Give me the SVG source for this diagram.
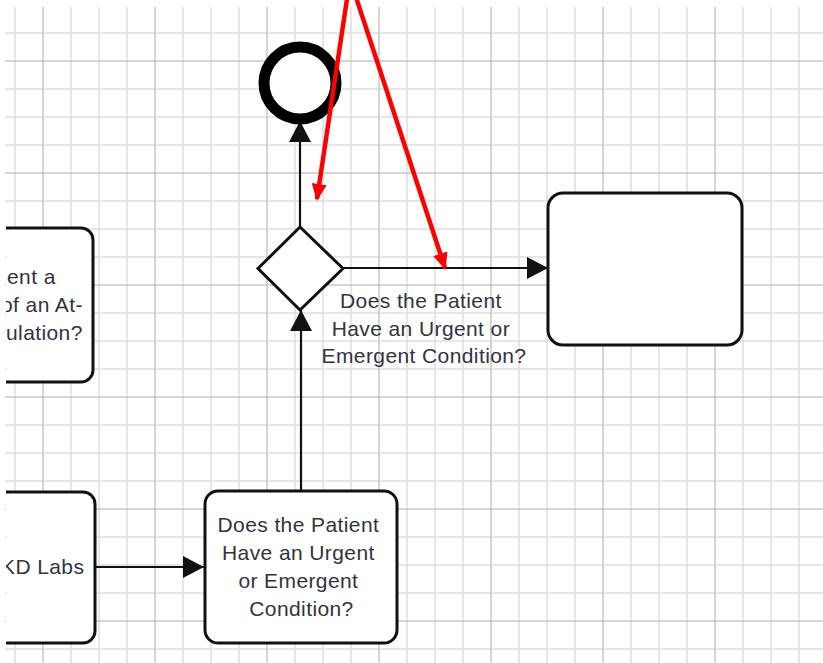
<svg xmlns="http://www.w3.org/2000/svg" width="823" height="663" viewBox="0 0 823 663">
  <style>
    .grid-light { fill: none; stroke: #dedede; stroke-width: 1.5; }
    .grid-dark { fill: none; stroke: #c8c8c8; stroke-width: 1.5; }
    .node { fill: #ffffff; stroke: #111111; stroke-width: 3; }
    .edge { fill: none; stroke: #111111; stroke-width: 2.2; }
    .red { fill: none; stroke: #ff0000; stroke-width: 4.5; }
    .lbl { font-family: "Liberation Sans", Arial, sans-serif; font-size: 21px; fill: #333340; letter-spacing: 0.4px; }
  </style>
  <defs>
    <marker id="arrow" markerUnits="userSpaceOnUse" viewBox="0 0 21 22" markerWidth="21" markerHeight="22" refX="21" refY="11" orient="auto">
      <path d="M0,0 L21,11 L0,22 Z" fill="#111111"/>
    </marker>
    <marker id="redarrow" markerUnits="userSpaceOnUse" viewBox="0 0 17 15" markerWidth="17" markerHeight="15" refX="15" refY="7.5" orient="auto">
      <path d="M0,0 L17,7.5 L0,15 Z" fill="#ff0000"/>
    </marker>
    <clipPath id="leftclip">
      <rect x="6" y="0" width="200" height="663"/>
    </clipPath>
  </defs>
  <rect x="0" y="0" width="823" height="663" fill="#ffffff"/>
  <g id="grid">
    <path class="grid-light" d="M15,7V663 M71,7V663 M99,7V663 M127,7V663 M183,7V663 M211,7V663 M239,7V663 M295,7V663 M323,7V663 M351,7V663 M407,7V663 M435,7V663 M463,7V663 M519,7V663 M547,7V663 M575,7V663 M631,7V663 M659,7V663 M687,7V663 M743,7V663 M771,7V663 M799,7V663 M5,33H823 M5,89H823 M5,117H823 M5,145H823 M5,201H823 M5,229H823 M5,257H823 M5,313H823 M5,341H823 M5,369H823 M5,425H823 M5,453H823 M5,481H823 M5,537H823 M5,565H823 M5,593H823 M5,649H823"/>
    <path class="grid-dark" d="M43,7V663 M155,7V663 M267,7V663 M379,7V663 M491,7V663 M603,7V663 M715,7V663 M5,61H823 M5,173H823 M5,285H823 M5,397H823 M5,509H823 M5,621H823"/>
  </g>
  <g id="connectors">
    <path class="edge" d="M300,227 V121" marker-end="url(#arrow)"/>
    <path class="edge" d="M344,268 H548" marker-end="url(#arrow)"/>
    <path class="edge" d="M301,491 V310" marker-end="url(#arrow)"/>
    <path class="edge" d="M95,567 H204" marker-end="url(#arrow)"/>
  </g>
  <g id="end-event">
    <circle cx="300" cy="83" r="36" fill="#ffffff" stroke="#000000" stroke-width="11"/>
  </g>
  <g id="gateway">
    <polygon class="node" points="300,227 343,268.5 300,310 258,268.5"/>
    <text class="lbl" text-anchor="middle">
      <tspan x="424" y="308">Does the Patient</tspan>
      <tspan x="424" y="336">Have an Urgent or</tspan>
      <tspan x="424" y="363">Emergent Condition?</tspan>
    </text>
  </g>
  <g id="task-right">
    <rect class="node" x="548" y="193" width="194" height="152" rx="15"/>
  </g>
  <g id="task-urgent">
    <rect class="node" x="205" y="491" width="192" height="152" rx="13"/>
    <text class="lbl" text-anchor="middle">
      <tspan x="301.5" y="532">Does the Patient</tspan>
      <tspan x="301.5" y="560">Have an Urgent</tspan>
      <tspan x="301.5" y="588">or Emergent</tspan>
      <tspan x="301.5" y="616">Condition?</tspan>
    </text>
  </g>
  <g id="task-left-top" clip-path="url(#leftclip)">
    <rect class="node" x="-30" y="228" width="123" height="154" rx="12"/>
    <text class="lbl">
      <tspan x="7" y="284">ent a</tspan>
      <tspan x="1" y="312">of an At-</tspan>
      <tspan x="6" y="340">ulation?</tspan>
    </text>
  </g>
  <g id="task-left-bottom" clip-path="url(#leftclip)">
    <rect class="node" x="-30" y="492" width="125" height="151" rx="12"/>
    <text class="lbl" x="1" y="574">KD Labs</text>
  </g>
  <g id="annotations">
    <path class="red" d="M350,-21 L317,199" marker-end="url(#redarrow)"/>
    <path class="red" d="M350,-21 L445,268" marker-end="url(#redarrow)"/>
  </g>
</svg>
